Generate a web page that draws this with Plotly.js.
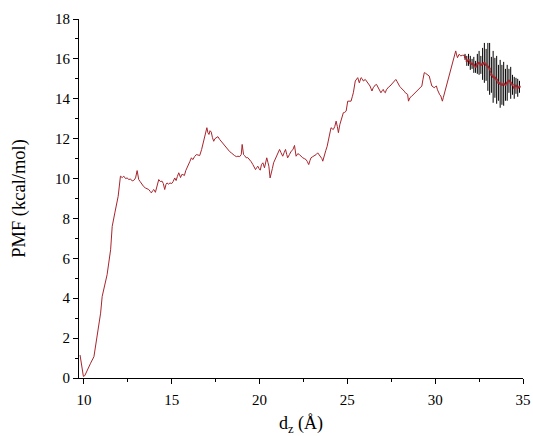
<!DOCTYPE html>
<html>
<head>
<meta charset="utf-8">
<script src="https://cdn.plot.ly/plotly-3.0.1.min.js"></script>
<style>html,body{margin:0;padding:0;background:#fff;}#chart{width:533px;height:436px;}</style>
</head>
<body>
<div id="chart"></div>
<script>
// Main PMF curve (d_z in Å, PMF in kcal/mol)
const dz = [9.78,9.9,9.97,10.05,10.13,10.25,10.38,10.57,10.76,10.95,11.04,11.19,11.32,11.52,11.61,11.76,11.95,12.08,12.18,12.27,12.37,12.46,12.56,12.65,12.75,12.84,12.94,13.03,13.12,13.2,13.31,13.4,13.5,13.6,13.69,13.78,13.84,13.92,13.98,14.07,14.17,14.26,14.35,14.45,14.52,14.6,14.67,14.73,14.82,14.9,15.0,15.08,15.17,15.25,15.32,15.4,15.5,15.57,15.64,15.72,15.8,15.93,16.03,16.12,16.2,16.3,16.4,16.5,16.59,16.7,16.78,16.91,17.0,17.06,17.12,17.18,17.25,17.32,17.39,17.46,17.54,17.63,17.73,17.83,17.92,18.05,18.2,18.3,18.39,18.48,18.58,18.68,18.77,18.87,18.96,19.01,19.09,19.15,19.24,19.33,19.43,19.52,19.62,19.7,19.77,19.84,19.9,19.97,20.04,20.11,20.19,20.28,20.35,20.41,20.48,20.53,20.6,20.66,20.73,20.8,20.88,20.95,21.05,21.14,21.22,21.32,21.4,21.48,21.55,21.6,21.7,21.8,21.9,21.99,22.08,22.18,22.27,22.36,22.46,22.55,22.65,22.72,22.8,22.87,22.93,23.03,23.13,23.22,23.31,23.4,23.47,23.55,23.6,23.69,23.77,23.85,23.92,23.98,24.07,24.13,24.2,24.28,24.36,24.43,24.49,24.57,24.64,24.7,24.77,24.85,24.93,25.02,25.11,25.21,25.28,25.34,25.45,25.52,25.59,25.68,25.78,25.85,25.91,26.02,26.08,26.15,26.22,26.29,26.35,26.4,26.47,26.53,26.6,26.66,26.72,26.78,26.85,26.91,26.98,27.04,27.1,27.16,27.22,27.29,27.36,27.43,27.5,27.57,27.66,27.76,27.84,27.91,27.98,28.05,28.12,28.18,28.24,28.3,28.37,28.43,28.48,28.56,28.63,28.71,28.8,28.9,29.0,29.09,29.16,29.24,29.3,29.38,29.45,29.51,29.58,29.66,29.73,29.81,29.88,29.94,30.0,30.07,30.13,30.19,30.26,30.32,30.37,30.41,30.46,30.51,30.57,30.64,30.7,30.76,30.82,30.89,30.98,31.08,31.17,31.22,31.27,31.36,31.46,31.55,31.65,31.7];
const pmf = [1.15,0.3,0.08,0.12,0.29,0.5,0.74,1.07,2.25,3.25,4.09,4.76,5.18,6.43,7.6,8.28,9.11,10.12,10.05,10.12,10.0,10.03,9.95,9.98,9.88,9.91,10.03,10.4,9.95,9.85,9.7,9.6,9.53,9.5,9.45,9.35,9.28,9.4,9.45,9.31,9.7,9.95,9.85,9.87,9.75,9.45,9.7,9.78,9.72,9.78,9.75,9.85,10.03,9.9,10.1,10.29,10.05,10.2,10.2,10.15,10.4,10.62,10.85,11.04,10.95,11.1,11.2,11.18,11.15,11.45,11.71,12.13,12.55,12.3,12.21,12.4,12.33,12.05,11.87,12.0,12.04,12.1,11.96,11.85,11.71,11.6,11.46,11.35,11.29,11.2,11.15,11.1,11.12,11.1,11.21,11.71,11.2,11.15,11.04,11.05,10.95,10.85,10.7,10.6,10.45,10.55,10.62,10.5,10.42,10.7,10.79,10.54,10.85,11.04,10.8,10.62,10.03,10.2,10.5,10.79,10.95,11.12,11.3,11.46,11.3,11.12,11.3,11.46,11.2,11.04,11.2,11.37,11.45,11.66,11.12,11.25,11.2,11.1,11.04,11.0,10.95,10.85,10.7,10.9,11.04,11.1,11.15,11.2,11.29,11.2,11.12,11.0,10.87,11.2,11.4,11.62,11.9,12.21,12.55,12.5,12.46,12.6,12.88,12.6,12.3,12.7,12.96,13.15,13.3,13.32,13.38,13.88,13.88,13.88,14.1,14.3,14.89,14.95,15.06,14.8,15.06,15.0,14.89,14.97,14.9,14.8,14.75,14.64,14.5,14.39,14.55,14.64,14.7,14.72,14.6,14.47,14.4,14.3,14.4,14.47,14.35,14.3,14.45,14.55,14.6,14.64,14.72,14.8,14.9,14.97,14.85,14.72,14.62,14.55,14.5,14.47,14.38,14.3,14.25,14.22,13.88,14.05,14.1,14.17,14.25,14.3,14.4,14.47,14.55,14.64,14.95,15.31,15.28,15.23,15.2,15.14,14.9,14.64,14.6,14.55,14.6,14.64,14.45,14.3,14.2,14.14,14.0,13.88,14.05,14.22,14.35,14.6,14.8,15.14,15.3,15.48,15.81,16.23,16.4,16.2,16.06,16.23,16.15,16.18,16.18,16.1];

// Tail of the curve with error bars
const dzErr = [31.7,31.8,31.9,32.0,32.1,32.2,32.3,32.4,32.5,32.6,32.7,32.8,32.9,33.0,33.1,33.2,33.3,33.4,33.5,33.6,33.7,33.8,33.9,34.0,34.1,34.2,34.3,34.4,34.5,34.6,34.7,34.8];
const pmfErr = [16.1,15.9,15.95,15.8,15.75,15.7,15.6,15.75,15.8,15.7,15.75,15.8,15.7,15.6,15.5,15.2,15.1,15.05,14.95,14.8,14.75,14.7,14.75,14.7,14.8,14.9,14.8,14.7,14.55,14.65,14.55,14.6];
const errVals = [0.15,0.25,0.3,0.35,0.25,0.4,0.3,0.5,0.6,0.45,0.8,1.0,0.8,1.2,1.3,0.9,1.3,1.0,1.2,0.9,1.2,1.0,1.1,0.8,0.9,0.6,0.8,0.5,0.55,0.4,0.45,0.3];

const xTicks = [10,15,20,25,30,35];
const yTicks = [0,2,4,6,8,10,12,14,16,18];

const red = '#a8252d';
const fontFam = '"Liberation Serif", "Times New Roman", serif';

const traces = [
  {x: dz, y: pmf, type: 'scatter', mode: 'lines', line: {color: red, width: 1}, hoverinfo: 'skip'},
  {x: dzErr, y: pmfErr, type: 'scatter', mode: 'lines+markers',
   line: {color: red, width: 1}, marker: {color: red, size: 2.5},
   error_y: {type: 'data', array: errVals, visible: true, color: '#000', thickness: 1, width: 0},
   hoverinfo: 'skip'}
];

const layout = {
  width: 533, height: 436,
  margin: {l: 79, r: 10, t: 19, b: 58},
  paper_bgcolor: '#fff', plot_bgcolor: '#fff',
  showlegend: false,
  font: {family: fontFam, color: '#000', size: 15},
  xaxis: {
    range: [9.72, 35], showgrid: false, zeroline: false,
    showline: true, linecolor: '#000', linewidth: 1,
    ticks: 'outside', ticklen: 5, tickwidth: 1, tickcolor: '#000',
    tickvals: xTicks, ticktext: xTicks.map(String),
    ticklabelstandoff: 3,
    minor: {dtick: 2.5, tick0: 10, ticks: 'outside', ticklen: 3, tickcolor: '#000', showgrid: false},
    tickfont: {family: fontFam, size: 15},
    title: {text: 'd<sub>z</sub> (Å)', font: {family: fontFam, size: 18}, standoff: 12}
  },
  yaxis: {
    range: [0, 18], showgrid: false, zeroline: false,
    showline: true, linecolor: '#000', linewidth: 1,
    ticks: 'outside', ticklen: 5, tickwidth: 1, tickcolor: '#000',
    tickvals: yTicks, ticktext: yTicks.map(String),
    minor: {dtick: 1, tick0: 0, ticks: 'outside', ticklen: 3, tickcolor: '#000', showgrid: false},
    tickfont: {family: fontFam, size: 15},
    title: {text: 'PMF (kcal/mol)', font: {family: fontFam, size: 18.5}, standoff: 24}
  }
};

Plotly.newPlot('chart', traces, layout, {displayModeBar: false, staticPlot: true});
</script>
</body>
</html>
